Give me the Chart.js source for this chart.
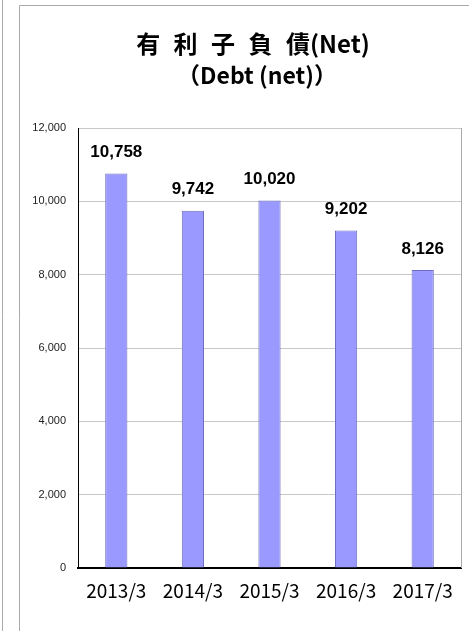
<!DOCTYPE html>
<html>
<head>
<meta charset="utf-8">
<script src="https://cdn.jsdelivr.net/npm/chart.js@4"></script>
<style>
  html, body { margin: 0; padding: 0; background: #fff; }
  #wrap { position: relative; width: 469px; height: 631px; }
</style>
</head>
<body>
<div id="wrap"><canvas id="debt-chart"></canvas></div>
<script>
// values
const periods = ['2013/3', '2014/3', '2015/3', '2016/3', '2017/3'];
const debtNet = [10758, 9742, 10020, 9202, 8126];
const yTicks = [0, 2000, 4000, 6000, 8000, 10000, 12000];

const titleMain = '有 利 子 負 債(Net)';
const titleSub = '（Debt (net)）';

const fmt = v => v.toLocaleString('en-US');

// frame lines, right border of the plot and the two title lines
const framePlugin = {
  id: 'frame',
  beforeDraw(chart) {
    const c = chart.ctx;
    c.save();
    c.strokeStyle = '#aaaaaa';
    c.lineWidth = 1;
    c.beginPath();
    c.moveTo(2.5, 0); c.lineTo(2.5, 631);
    c.moveTo(19.5, 631); c.lineTo(19.5, 5.5); c.lineTo(469, 5.5);
    c.stroke();
    c.restore();
  },
  afterDraw(chart) {
    const c = chart.ctx;
    const a = chart.chartArea;
    c.save();
    c.strokeStyle = '#aaaaaa';
    c.lineWidth = 1;
    c.beginPath();
    c.moveTo(Math.round(a.right) + 0.5, a.top);
    c.lineTo(Math.round(a.right) + 0.5, a.bottom);
    c.stroke();

    c.fillStyle = '#000';
    c.textAlign = 'center';
    c.textBaseline = 'middle';
    c.font = 'bold 24px "Noto Sans CJK JP"';
    c.wordSpacing = '8px';
    c.fillText(titleMain, 253, 44);
    c.wordSpacing = '0px';
    c.font = 'bold 23px "Noto Sans CJK JP"';
    c.fillText(titleSub, 257, 75);
    c.restore();
  }
};

// value labels above each bar
const valueLabels = {
  id: 'valueLabels',
  afterDatasetsDraw(chart) {
    const c = chart.ctx;
    const meta = chart.getDatasetMeta(0);
    c.save();
    c.fillStyle = '#000';
    c.textAlign = 'center';
    c.textBaseline = 'middle';
    c.font = 'bold 17px "Liberation Sans", Arial, sans-serif';
    meta.data.forEach((bar, i) => {
      c.fillText(fmt(debtNet[i]), bar.x, bar.y - 21);
    });
    c.restore();
  }
};

const ctx = document.getElementById('debt-chart').getContext('2d');
new Chart(ctx, {
  type: 'bar',
  data: {
    labels: periods,
    datasets: [{
      label: 'Debt (net)',
      data: debtNet,
      backgroundColor: '#9999ff',
      borderColor: '#6f6fbf',
      borderWidth: 1,
      categoryPercentage: 1,
      barPercentage: 0.29
    }]
  },
  options: {
    responsive: true,
    maintainAspectRatio: false,
    animation: false,
    layout: { padding: { left: 0, right: 8, top: 128, bottom: 0 } },
    plugins: {
      legend: { display: false },
      title: { display: false },
      tooltip: { enabled: false }
    },
    scales: {
      x: {
        grid: { display: false, drawTicks: false },
        border: { display: true, color: '#000', width: 2 },
        ticks: {
          color: '#000',
          padding: 11,
          font: { family: '"Noto Sans CJK JP"', size: 19 }
        },
        afterFit(scale) { scale.height = 63; }
      },
      y: {
        min: 0,
        max: 12000,
        afterBuildTicks(scale) { scale.ticks = yTicks.map(v => ({ value: v })); },
        grid: { color: '#c8c8c8', drawTicks: false },
        border: { display: true, color: '#000', width: 1 },
        ticks: {
          color: '#222',
          padding: 12,
          font: { family: '"Liberation Sans", Arial, sans-serif', size: 11 },
          callback: v => fmt(v)
        },
        afterFit(scale) { scale.width = 78; }
      }
    }
  },
  plugins: [framePlugin, valueLabels]
});
</script>
</body>
</html>
